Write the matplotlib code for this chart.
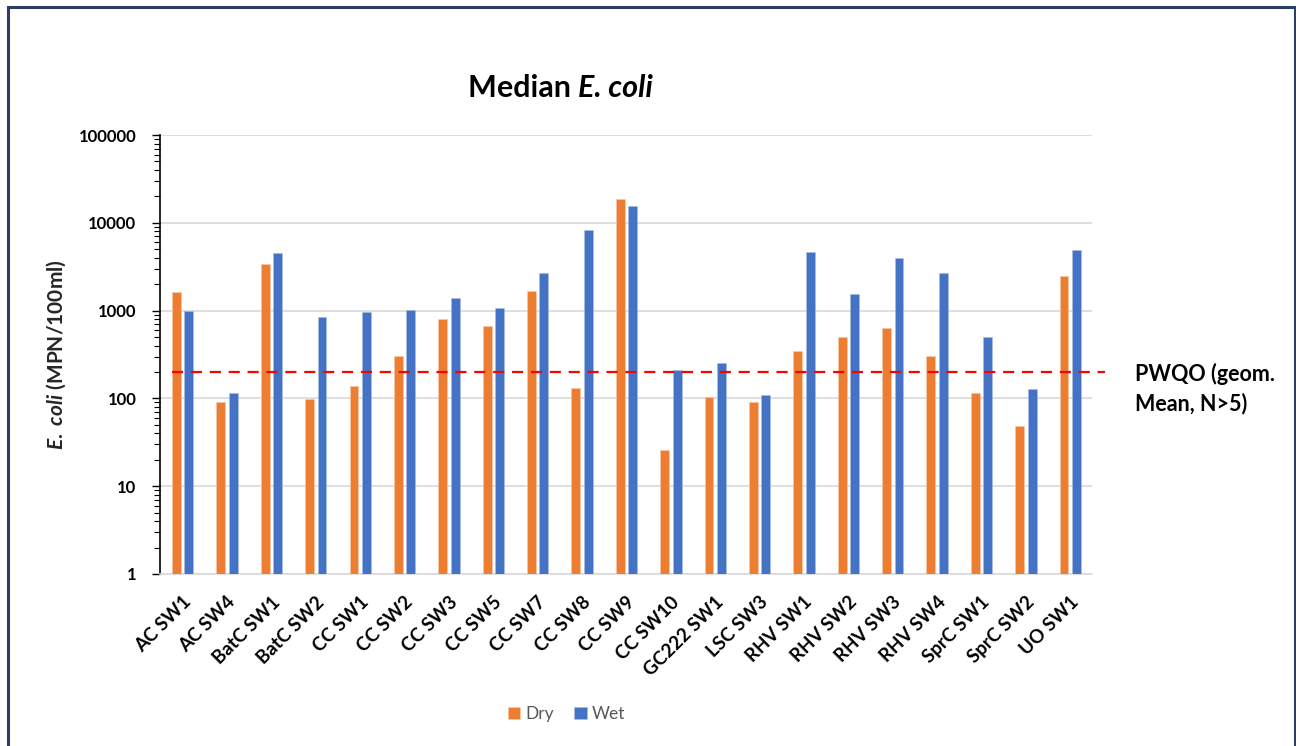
import numpy as np
import matplotlib.pyplot as plt
import matplotlib
from matplotlib.patches import Rectangle
from matplotlib.ticker import LogLocator, NullFormatter, FixedLocator

matplotlib.rcParams.update({
    'font.family': ['Lato', 'DejaVu Sans'],
    'font.size': 11,
    'mathtext.fontset': 'custom',
    'mathtext.it': 'Lato:italic:bold',
    'mathtext.rm': 'Lato:bold',
})

# Sites and median E. coli (MPN/100ml)
sites = ['AC SW1', 'AC SW4', 'BatC SW1', 'BatC SW2', 'CC SW1', 'CC SW2', 'CC SW3',
         'CC SW5', 'CC SW7', 'CC SW8', 'CC SW9', 'CC SW10', 'GC222 SW1', 'LSC SW3',
         'RHV SW1', 'RHV SW2', 'RHV SW3', 'RHV SW4', 'SprC SW1', 'SprC SW2', 'UO SW1']
dry = [1610, 91, 3400, 99, 138, 304, 810, 670, 1690, 132, 18800, 26, 105, 90,
       350, 505, 640, 304, 114, 48, 2460]
wet = [1000, 114, 4490, 840, 970, 1010, 1400, 1060, 2700, 8200, 15700, 211, 251, 109,
       4690, 1545, 3940, 2700, 505, 127, 4940]
pwqo = 200  # geometric mean guideline

ORANGE = '#ED7D31'
BLUE = '#4472C4'

fig = plt.figure(figsize=(12.96, 7.46), dpi=100)
ax = fig.add_axes([0.1235, 0.2306, 0.7191, 0.5884])

x = np.arange(len(sites))
w = 0.2
ax.bar(x - 0.13, dry, width=w, color=ORANGE, edgecolor='#f6c9a8', linewidth=0.4,
       label='Dry', zorder=3)
ax.bar(x + 0.15, wet, width=w, color=BLUE, edgecolor='#a9bde3', linewidth=0.4,
       label='Wet', zorder=3)

# guideline, runs a little past the plot area like the original
ax.plot([-0.23, 20.79], [pwqo, pwqo], color='#FF0000', linestyle=(0, (5, 3.5)),
        linewidth=1.6, zorder=4, clip_on=False)

ax.set_yscale('log')
ax.set_ylim(1, 100000)
ax.set_xlim(-0.5, len(sites) - 0.5)
ax.yaxis.set_major_locator(FixedLocator([1, 10, 100, 1000, 10000, 100000]))
ax.set_yticklabels(['1', '10', '100', '1000', '10000', '100000'],
                   fontweight='bold', fontsize=12)
ax.yaxis.set_minor_locator(LogLocator(base=10, subs=np.arange(2, 10)))
ax.yaxis.set_minor_formatter(NullFormatter())
ax.tick_params(axis='y', which='major', length=6, width=1.0, color='black', pad=11)
ax.tick_params(axis='y', which='minor', length=4, width=0.8, color='black')

ax.set_xticks(x)
ax.set_xticklabels(sites, rotation=45, ha='right', rotation_mode='anchor',
                   fontweight='bold', fontsize=13.5)
ax.tick_params(axis='x', length=0, pad=14)

ax.grid(axis='y', which='major', color='#d9d9d9', linewidth=1.2, zorder=0)
ax.set_axisbelow(True)
for s in ['top', 'right']:
    ax.spines[s].set_visible(False)
ax.spines['left'].set_color('black')
ax.spines['left'].set_linewidth(1.2)
ax.spines['bottom'].set_color('#d9d9d9')
ax.spines['bottom'].set_linewidth(1.2)

ax.set_ylabel(r'$\it{E.\ coli}$ (MPN/100ml)', fontsize=15, fontweight='bold',
              color='#262626', labelpad=8)

fig.text(0.446, 0.882, 'Median ', ha='right', va='center', fontsize=22,
         fontweight='bold')
fig.text(0.446, 0.882, 'E. coli', ha='left', va='center', fontsize=22,
         fontweight='bold', fontstyle='italic')

fig.text(0.876, 0.479, 'PWQO (geom.\nMean, N>5)', ha='left', va='center',
         fontsize=15.5, fontweight='bold', linespacing=1.45)

leg = fig.legend(loc='center', bbox_to_anchor=(0.437, 0.043), ncol=2, frameon=False,
                 handlelength=0.7, handleheight=0.7, handletextpad=0.3,
                 columnspacing=1.2, fontsize=12.5)
for t in leg.get_texts():
    t.set_color('#595959')

# outer frame
fig.patches.append(Rectangle((0.0065, -0.05), 0.9925, 1.0405, transform=fig.transFigure,
                             fill=False, edgecolor='#2B3F63', linewidth=2.2))

fig.savefig('out.png', dpi=100, facecolor='white')
